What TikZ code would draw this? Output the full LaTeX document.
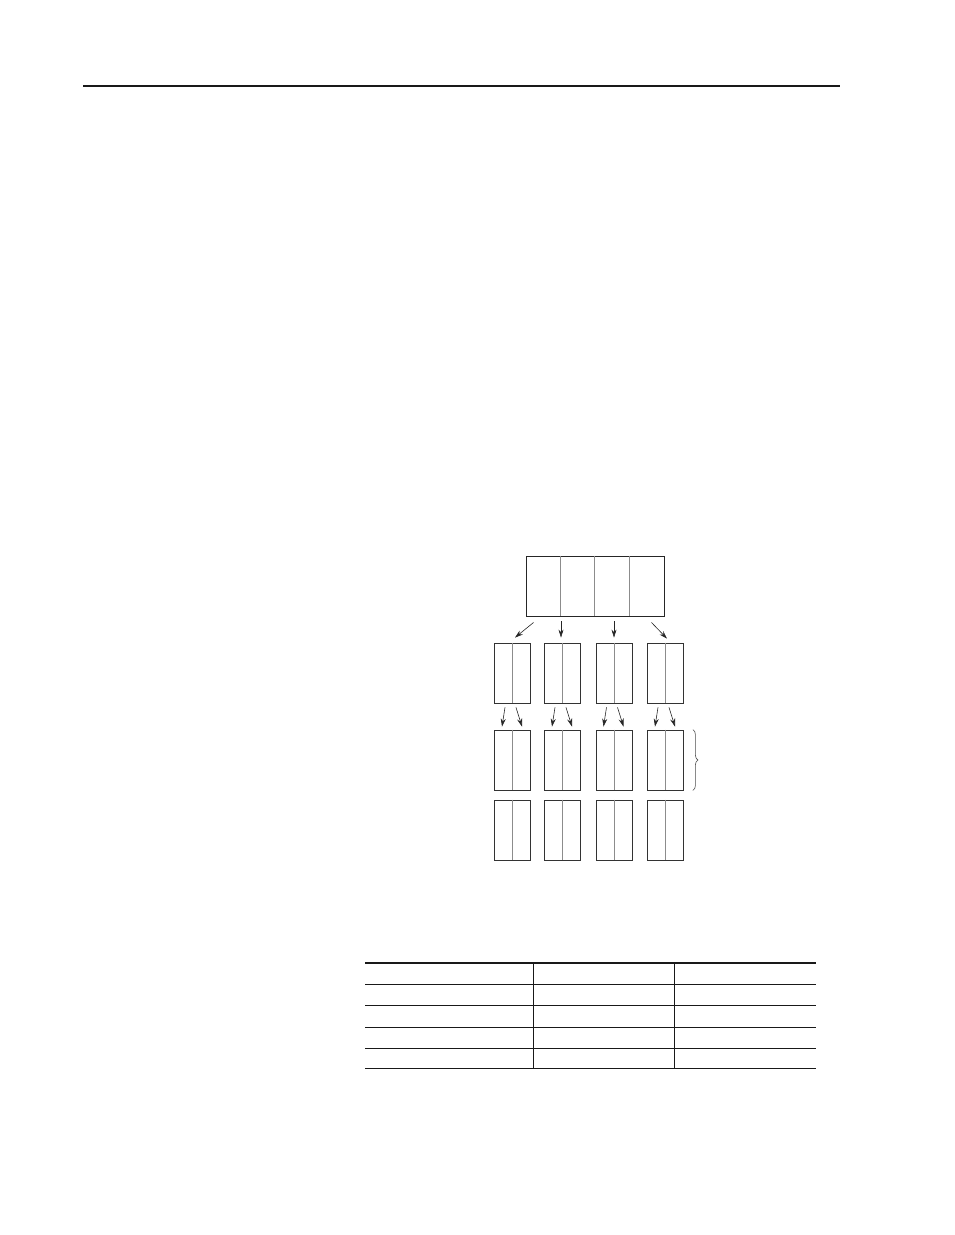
\documentclass[tikz,border=0pt]{standalone}
\usepackage{tikz}
\usetikzlibrary{arrows.meta,decorations.pathreplacing}

\tikzset{
  blk/.style={draw=black!80,line width=0.8pt,minimum width=36pt,minimum height=60pt,inner sep=0pt},
  topblk/.style={draw=black!85,line width=0.9pt,minimum width=138pt,minimum height=60pt,inner sep=0pt},
  divline/.style={draw=black!45,line width=0.7pt},
  arr/.style={-{Stealth[length=8pt,width=5pt]},line width=0.6pt,black!85},
  rule/.style={line width=1pt,black!90}
}

\begin{document}
\begin{tikzpicture}[x=1pt,y=-1pt]
\useasboundingbox (0,0) rectangle (954,1235);

% page header rule
\draw[line width=1.3pt,black!90] (83,86) -- (840,86);

% top block with four fields
\node[topblk] (top) at (595,586) {};
\foreach \dx in {34.5,69,103.5}
  \draw[divline] ([xshift=\dx pt]top.north west) -- ([xshift=\dx pt]top.south west);

% three rows of split blocks
\foreach \c/\x in {1/512.5,2/562.5,3/614,4/665.5}{
  \node[blk] (a\c) at (\x,673) {};
  \node[blk] (b\c) at (\x,760) {};
  \node[blk] (c\c) at (\x,830) {};
  \foreach \r in {a,b,c}
    \draw[divline] (\r\c.north) -- (\r\c.south);
  % arrows into the second row
  \draw[arr] ([xshift=-7.5pt,yshift=-4pt]a\c.south) -- ([xshift=-10.5pt,yshift=3pt]b\c.north);
  \draw[arr] ([xshift=3.5pt,yshift=-4pt]a\c.south) -- ([xshift=9.5pt,yshift=3pt]b\c.north);
}

% arrows from the top block
\draw[arr] ([xshift=8pt,yshift=-6pt]top.south west) -- ([xshift=2.5pt,yshift=5pt]a1.north);
\draw[arr] ([xshift=-34pt,yshift=-5pt]top.south) -- ([xshift=-1.5pt,yshift=5pt]a2.north);
\draw[arr] ([xshift=19pt,yshift=-5pt]top.south) -- ([yshift=5pt]a3.north);
\draw[arr] ([xshift=-13pt,yshift=-6pt]top.south east) -- ([xshift=1.5pt,yshift=4pt]a4.north);

% brace beside the second row
\draw[decorate,decoration={brace,amplitude=5pt},line width=0.6pt,black!70]
  ([xshift=9pt]b4.north east) -- ([xshift=9pt]b4.south east);

% table
\draw[line width=1.8pt,black!90] (365,963) -- (816,963);
\foreach \y in {984,1005,1027,1048,1068}
  \draw[rule] (365,\y) -- (816,\y);
\draw[rule] (533,963) -- (533,1068);
\draw[rule] (674,963) -- (674,1068);
\end{tikzpicture}
\end{document}
